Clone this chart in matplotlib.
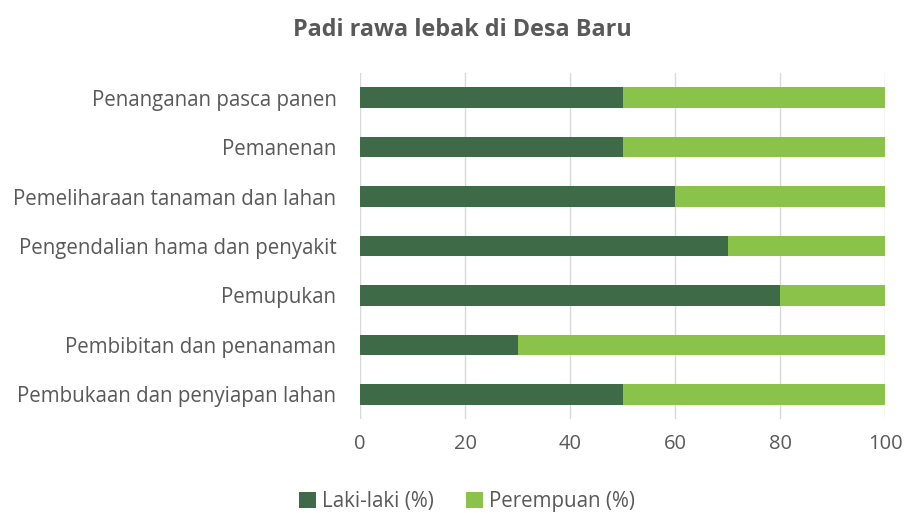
import numpy as np
import matplotlib.pyplot as plt

plt.rcParams['font.family'] = ['Open Sans', 'DejaVu Sans']

categories = [
    'Pembukaan dan penyiapan lahan',
    'Pembibitan dan penanaman',
    'Pemupukan',
    'Pengendalian hama dan penyakit',
    'Pemeliharaan tanaman dan lahan',
    'Pemanenan',
    'Penanganan pasca panen',
]
laki = [50, 30, 80, 70, 60, 50, 50]
perempuan = [50, 70, 20, 30, 40, 50, 50]
xticks = [0, 20, 40, 60, 80, 100]

gray = '#595959'
fig = plt.figure(figsize=(9.07, 5.13), dpi=100)
ax = fig.add_axes([0.397, 0.183, 0.579, 0.675])

y = np.arange(len(categories))
ax.barh(y, laki, height=0.41, color='#3f6a47', label='Laki-laki (%)', zorder=3)
ax.barh(y, perempuan, left=laki, height=0.41, color='#8bc34a', label='Perempuan (%)', zorder=3)

ax.set_xlim(0, 100)
ax.set_ylim(-0.5, len(categories) - 0.5)
ax.set_xticks(xticks)
ax.set_yticks(y)
ax.set_yticklabels(categories)
ax.tick_params(axis='both', length=0, colors=gray, labelsize=14.8)
ax.tick_params(axis='x', labelsize=14.5, pad=11)
ax.tick_params(axis='y', pad=17)
ax.grid(axis='x', color='#d9d9d9', linewidth=1, zorder=0)
for s in ax.spines.values():
    s.set_visible(False)

fig.suptitle('Padi rawa lebak di Desa Baru', x=0.51, y=0.965, fontsize=16.8, fontweight='bold', color=gray)
fig.legend(loc='lower center', bbox_to_anchor=(0.515, -0.035), ncol=2, frameon=False,
           fontsize=14.8, labelcolor=gray, handlelength=0.8, handleheight=0.8,
           handletextpad=0.3, columnspacing=1.6)

plt.savefig('out.png', dpi=100)
